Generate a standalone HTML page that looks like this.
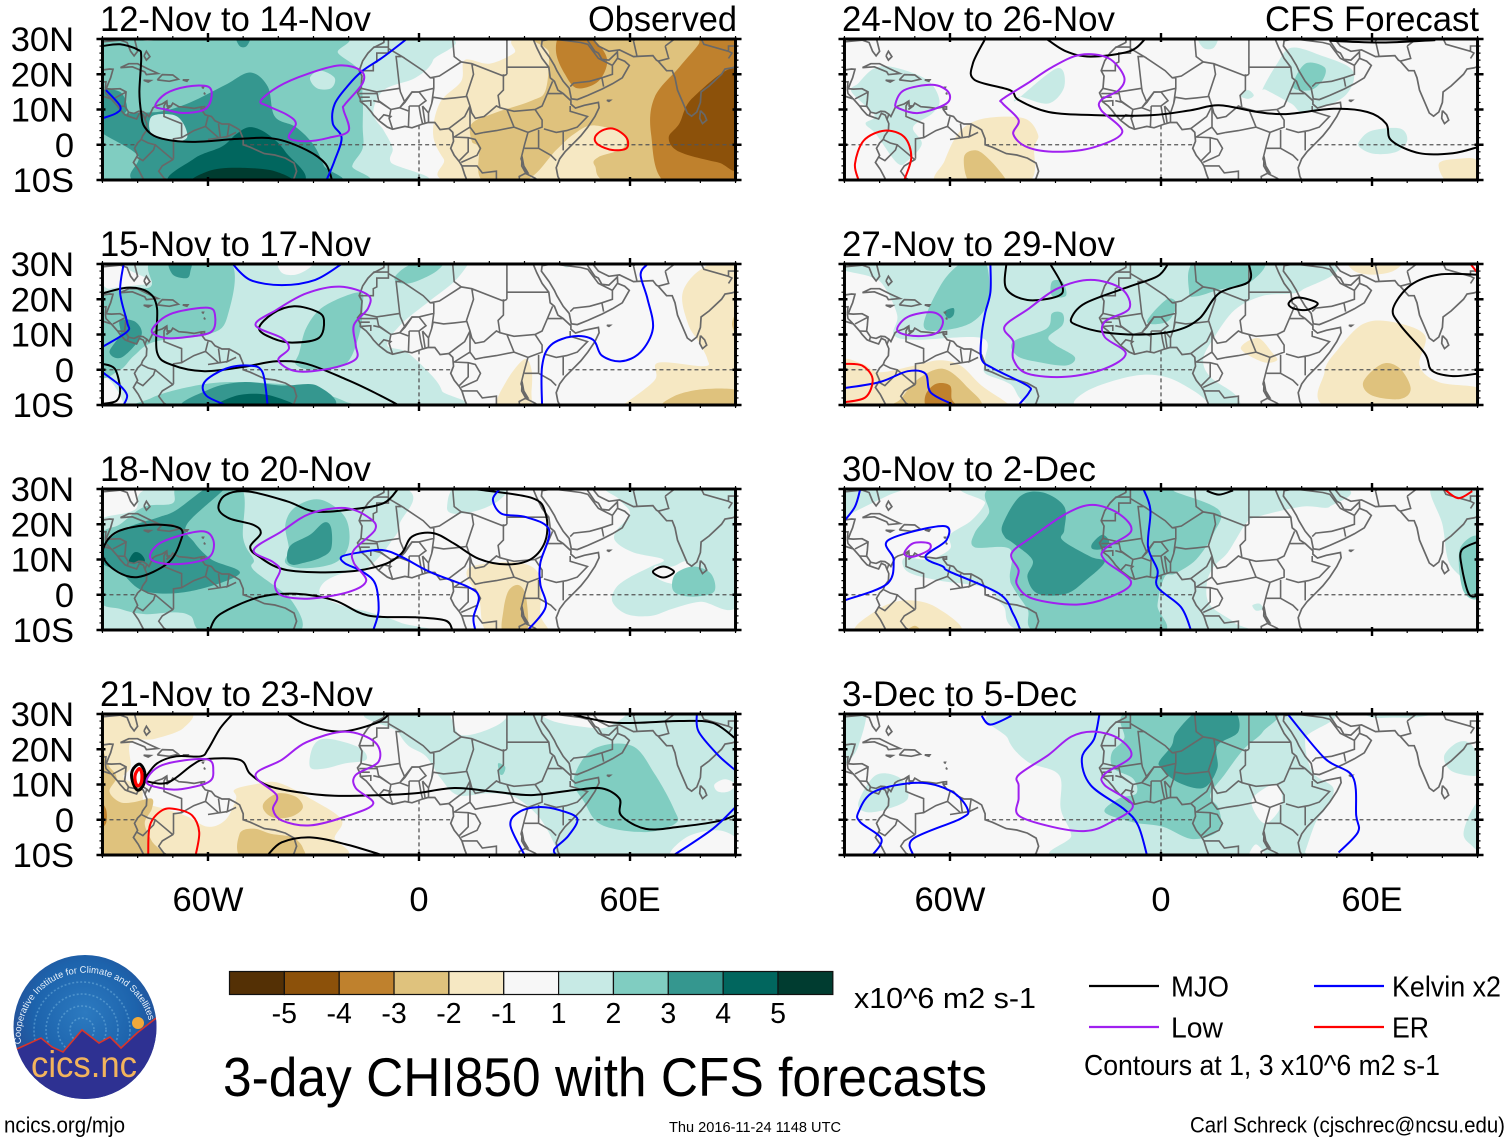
<!DOCTYPE html>
<html lang="en">
<head>
<meta charset="utf-8">
<title>3-day CHI850 with CFS forecasts</title>
<style>
html,body{margin:0;padding:0;background:#fff;}
body{width:1510px;height:1142px;overflow:hidden;}
svg{display:block;}
text{font-family:"Liberation Sans",sans-serif;fill:#000;}
</style>
</head>
<body>
<svg id="chart" xmlns="http://www.w3.org/2000/svg" width="1510" height="1142" viewBox="0 0 1510 1142">
<rect x="0" y="0" width="1510" height="1142" fill="#fff"/>
<g id="panels"></g>

<text x="588" y="31" font-size="35" textLength="149" lengthAdjust="spacingAndGlyphs">Observed</text>
<text x="1265" y="31" font-size="35" textLength="214" lengthAdjust="spacingAndGlyphs">CFS Forecast</text>

<g>
<defs>
<radialGradient id="logoGrad" cx="50%" cy="40%" r="60%">
<stop offset="0%" stop-color="#2c7ac0"/><stop offset="60%" stop-color="#1d63ac"/><stop offset="100%" stop-color="#27488f"/>
</radialGradient>
<clipPath id="logoClip"><ellipse cx="85" cy="1027" rx="71.5" ry="72"/></clipPath>
<path id="logoArc" d="M 21 1044 A 65 65 0 1 1 151 1032"/>
</defs>
<ellipse cx="85" cy="1027" rx="71.5" ry="72" fill="url(#logoGrad)"/>
<g fill="none" stroke="#6fb0dd" stroke-width="1.6" stroke-dasharray="2 2" opacity=".55" clip-path="url(#logoClip)">
<circle cx="82" cy="1030" r="12"/><circle cx="82" cy="1030" r="24"/><circle cx="82" cy="1030" r="36"/><circle cx="82" cy="1030" r="48"/>
</g>
<circle cx="138" cy="1023" r="6" fill="#f0a93a"/>
<path clip-path="url(#logoClip)" d="M 10 1052 L 19 1048 L 41 1038 L 52 1047 L 63 1052 L 82 1030 L 99 1043 L 110 1037 L 121 1048 L 137 1033 L 160 1015 L 160 1105 L 10 1105 Z" fill="#2e3192" stroke="#d8352a" stroke-width="1.6"/>
<text x="84" y="1077" font-size="37" text-anchor="middle" textLength="106" lengthAdjust="spacingAndGlyphs" style="fill:#f2b45c">cics.nc</text>
<text font-size="9.4" style="fill:#e8f1fa"><textPath href="#logoArc">Cooperative Institute for Climate and Satellites</textPath></text>
</g>

<g id="colorbar"></g>
<text x="854" y="1008" font-size="29" textLength="182" lengthAdjust="spacingAndGlyphs">x10^6 m2 s-1</text>

<g>
<line x1="1089" y1="986" x2="1159" y2="986" stroke="#000" stroke-width="2.2"/>
<text x="1171" y="996.5" font-size="28.5" textLength="58" lengthAdjust="spacingAndGlyphs">MJO</text>
<line x1="1089" y1="1027" x2="1159" y2="1027" stroke="#a020f0" stroke-width="2.2"/>
<text x="1171" y="1037.5" font-size="28.5" textLength="52" lengthAdjust="spacingAndGlyphs">Low</text>
<line x1="1314" y1="986" x2="1384" y2="986" stroke="#0000ff" stroke-width="2.2"/>
<text x="1392" y="996.5" font-size="28.5" textLength="109" lengthAdjust="spacingAndGlyphs">Kelvin x2</text>
<line x1="1314" y1="1027" x2="1384" y2="1027" stroke="#ff0000" stroke-width="2.2"/>
<text x="1392" y="1037.5" font-size="28.5" textLength="37" lengthAdjust="spacingAndGlyphs">ER</text>
<text x="1084" y="1075" font-size="28.5" textLength="356" lengthAdjust="spacingAndGlyphs">Contours at 1, 3 x10^6 m2 s-1</text>
</g>

<text x="223" y="1096" font-size="55" textLength="764" lengthAdjust="spacingAndGlyphs">3-day CHI850 with CFS forecasts</text>
<text x="4" y="1132.5" font-size="22" textLength="121" lengthAdjust="spacingAndGlyphs">ncics.org/mjo</text>
<text x="669" y="1132" font-size="14.5" textLength="172" lengthAdjust="spacingAndGlyphs">Thu 2016-11-24 1148 UTC</text>
<text x="1190" y="1132.5" font-size="22" textLength="315" lengthAdjust="spacingAndGlyphs">Carl Schreck (cjschrec@ncsu.edu)</text>
</svg>

<script>
const panelTitles = ["12-Nov to 14-Nov","15-Nov to 17-Nov","18-Nov to 20-Nov","21-Nov to 23-Nov","24-Nov to 26-Nov","27-Nov to 29-Nov","30-Nov to 2-Dec","3-Dec to 5-Dec"];
const panelTitleWidths = [271,271,271,273,273,273,254,235];
const lonTicks = [-60,0,60];
const lonTickLabels = ["60W","0","60E"];
const latTicks = [30,20,10,0,-10];
const latTickLabels = ["30N","20N","10N","0","10S"];
const colorLevels = [-6,-5,-4,-3,-2,0,1,2,3,4,5];
const colorValues = ["#543005","#8c510a","#bf812d","#dfc27d","#f6e8c3","#f7f7f7","#c7eae5","#80cdc1","#35978f","#01665e","#003c30"];
const colorbarLabels = ["-5","-4","-3","-2","-1","1","2","3","4","5"];
const contourColors = {MJO:"#000000",Kelvin:"#0000ff",Low:"#a020f0",ER:"#ff0000"};

const coastlines = [
[[-90,29.2],[-85,29.7],[-83,29],[-82,26.5],[-81,25.2],[-80,26.5],[-81,30.5]],
[[-90,21.2],[-88,21.5],[-87,21.4],[-87.7,19],[-88.3,17.5],[-88.9,15.9],[-87.5,15.8],[-85,15.9],[-83.3,15],[-83.5,12.5],[-83.7,11],[-82.5,9.2],[-81,8.9],[-79.7,9.5],[-78.5,9.4],[-77.3,8.6],[-76.8,8],[-75.6,10.5],[-74.8,11],[-73,11.6],[-71.7,12.4],[-71.6,11],[-71,11],[-71.8,10],[-70.5,11],[-70,11.8],[-68.3,10.8],[-66,10.6],[-64,10.3],[-62,10.7],[-61.9,10],[-60.8,8.5],[-59,8],[-58,6.8],[-56,5.9],[-54,5.9],[-52,4.8],[-51,4.2],[-50,1.7],[-50,0],[-48,-0.7],[-44,-2.5],[-41,-2.9],[-38,-3.8],[-35.5,-5.2],[-34.8,-7.5],[-35.5,-9.5],[-36.5,-10.5]],
[[-90,13.8],[-87.5,13],[-85.7,11],[-85,10],[-83.6,8.5],[-82.9,8.2],[-81.5,7.7],[-80.3,7.3],[-79.5,8.9],[-78.4,8.4],[-77.9,7.2],[-77.4,6],[-77.5,4],[-78.6,2.5],[-79,1.5],[-80,0.5],[-80.9,-1],[-80,-3],[-81.2,-5],[-79.8,-7],[-78.5,-9.5],[-78,-10.5]],
[[-84.9,21.9],[-82.5,23],[-80,23],[-77,21.5],[-74.2,20.2],[-77.5,19.9],[-78,20.7],[-81.5,22.1],[-84.9,21.9]],
[[-74.4,18.4],[-73,19.9],[-70,19.8],[-68.4,18.6],[-71,18],[-74.4,18.4]],
[[-78.3,18.3],[-76.3,18.2],[-77,17.8],[-78.3,18.3]],
[[-67.2,18.4],[-65.7,18.4],[-66,18],[-67.2,18.4]],
[[-78.2,25.2],[-77.5,24],[-76.5,25],[-77.5,26.5],[-78.2,25.2]],
[[-61.8,16.3],[-61.3,16.3],[-61.5,15.9]],[[-61.2,14.8],[-60.9,14.5],[-61,14.2]],
[[-61.8,10.7],[-61,10.8],[-61,10.1],[-61.8,10.1],[-61.8,10.7]],
[[-9.8,31],[-10,29],[-12,28],[-13,27.5],[-14.5,26],[-16,23.8],[-17,21],[-16.2,19.5],[-16.5,16],[-17.5,14.7],[-16.7,13],[-16.7,12.3],[-15,11],[-13.7,9.5],[-13,8.5],[-11.5,6.9],[-9,5],[-7.5,4.4],[-4,5.2],[-2,4.8],[1,5.9],[2.5,6.3],[4.5,6.3],[6,4.3],[8.5,4.6],[9.6,3.5],[9.8,1],[9,-1],[10,-3],[11.5,-4.8],[12.2,-6],[13,-8.5],[13.8,-10.5]],
[[32.5,29.9],[33.5,27.5],[35,24.5],[36.9,22],[37.3,19],[38.5,18],[39.5,15.5],[41,14.5],[43.2,12.5],[43.2,11.5],[44.5,10.4],[47,11.2],[51,12],[51.2,10.5],[50,8],[48,5],[46,2.5],[43.5,0],[41.5,-2],[40,-4],[39,-6.5],[39.5,-9],[40.3,-10.5]],
[[35,29.5],[34.8,28],[37,25],[38.5,22.5],[39.2,21],[41,18],[42.7,16],[43.3,13],[45,12.8],[48,14],[52,15.8],[55,17.3],[57.8,19],[59.8,22.5],[58.5,23.7],[56.5,24.5],[56.4,26.3],[54,24],[52,24.2],[51,26],[50,26.5],[48,29.5],[48,31]],
[[49,30.5],[51,28],[54,26.5],[57,26.9],[61,25],[66.5,25.3],[67.5,24],[68,23.7],[70.4,21],[72,21],[72.8,19],[73.5,15.5],[75,12],[76.3,9],[77.5,8.1],[79,9.3],[80,12],[80.2,15],[82.5,16.7],[86,20],[87,21.5],[89,21.8],[91,22.5]],
[[80,9.7],[81.2,8.5],[81.8,7],[80.6,6],[79.8,7.5],[80,9.7]],
[[53.4,12.6],[54.4,12.6],[54,12.3],[53.4,12.6]]
];
const borders = [
[[-8.7,31],[-8.7,27.7],[-13,27.7]],
[[-17,21],[-13,21],[-13,23],[-12,23.5],[-12,26],[-8.7,26],[-8.7,27.3],[-4.8,25],[-6.5,25],[-5.5,16],[-12,15],[-16.5,16]],
[[-4.8,25],[1.2,21],[3.2,19],[4.2,19],[4.2,16],[0,15],[-2,15],[-5.5,10.5]],
[[-5.5,16],[-5.3,15],[-4,12]],[[-12,15],[-11.5,12.5],[-8,10]],
[[3.2,19],[5.8,19.5],[12,23.5],[15,23],[24,19.5],[25,20]],
[[9.5,31],[10,25],[12,23.5]],[[25,31],[25,20]],[[25,22],[37,22]],
[[24,20],[24,15.5],[22.5,14],[23,10.5],[25,10],[27,5]],
[[15,23],[15.5,20],[13.5,14],[14.5,11],[15,9],[16,7.5],[18.5,8],[22,11],[23,10.5]],
[[3.6,11.7],[4,13.5],[7,13],[10,13.3],[13.5,13.7]],
[[14.5,11],[13,8],[11,6.5],[8.5,4.6]],[[2.7,6.3],[2.7,9],[3.6,11.7]],
[[-2.8,9.5],[-5.5,10.5],[-4,12],[-2,14.9],[0,15],[2,12.5],[0,11],[-2.8,11]],
[[-3,5],[-2.8,11]],[[0,11],[0.5,8],[1,6]],[[1.7,6.3],[1,11]],[[2.7,9],[1,11]],[[4.2,16],[3.6,11.7]],
[[-7.5,4.4],[-8.5,7.5],[-8,10],[-5.5,10.5]],[[-11.5,6.9],[-10,8.5],[-8,8],[-8.5,7.5]],
[[-13,12.5],[-11,12],[-8,10]],[[-17,14.5],[-12,14.5]],[[-16.7,13.5],[-14,13.5]],[[-16.7,12.3],[-13.7,12.5],[-13.7,11]],
[[14.5,5],[16,3],[18.5,3.5],[22,4],[27,5]],[[14.5,11],[14.5,5],[10,2.2]],
[[9.8,2.2],[14,2],[16,1.5],[17.5,-1],[16.5,-3],[12,-5]],[[14,2],[14,-2],[11.5,-4.5]],
[[27,5],[31,3.5],[30,0],[29,-4],[30.5,-8],[28.5,-9],[28.7,-11]],
[[23,10.5],[27,9.5],[33,10],[35,7],[35,5],[31,3.5]],
[[33,10],[35,11],[36.5,14.5],[38,18]],[[36.5,14.5],[41,14.5]],
[[43,11],[43,9.5],[47.9,8],[45,5],[42,4],[39,3.5],[35.5,4.5]],
[[34,4.2],[34,-1],[37.5,-3],[39,-4.5]],[[41,-1.6],[41,3.8]],
[[30,-1],[34,-1]],[[30,-8],[33,-9.5],[35,-11],[40.4,-10.5]],
[[29.3,-3.3],[29.8,-6],[31,-8],[30.3,-8],[29.2,-6],[29.3,-3.3]],
[[12.2,-6],[16.5,-6],[18,-8],[22,-7.5],[22,-11]],
[[34.8,29.5],[38,30],[46,29],[48,28.5],[51,24.5],[55,22.5],[55,20],[52,19],[48.5,18],[44,17.5],[43,16.5]],
[[52.5,16.5],[52,19]],[[55,22.5],[56.4,24.5]],
[[62,25],[61,29.5],[63,31]],[[70,28],[71,24.5],[68,23.7]],[[70,28],[74,31]],
[[80,30.5],[81,28.5],[88,26.5],[88,28],[91,28]],[[88,24.5],[89,26],[88,26.5]],
[[-71.7,12.4],[-72.5,11],[-72.5,8],[-70,7],[-67.5,6],[-67.5,2],[-69.8,1.7],[-69.8,-4]],
[[-80.3,-3.5],[-78.5,-4.5],[-75.5,-1.5],[-75,0],[-77,0.5],[-78.8,1.4]],
[[-75,0],[-70,-4.2],[-73,-6],[-74,-7.5],[-72.5,-9.5],[-70.5,-10.5]],
[[-67.5,2],[-64,4],[-60.7,5.2]],[[-60,8],[-60.7,5.2],[-57,2]],[[-57,6],[-56.5,2]],[[-54,5.8],[-54.5,2.3],[-52,3.5]],[[-60,1.5],[-54.5,2.3]],
[[-90,17.8],[-89,17.9],[-89.2,15.9]],[[-87.7,13.2],[-89,14.5],[-89.2,15.9]],[[-87,13],[-83.2,15]],
[[-85.7,11],[-83.7,10.9]],[[-82.9,8.2],[-82.6,9.5]],[[-77.4,8.6],[-77.9,7.2]]
];
const equatorOceanSpans = [[-90,-80],[-50,9.5],[42.5,90]];
const meridianOceanSpan = [5.5,-10];

const panel1Fills = [
[1,[[3,31],[4,24],[-1,19],[-10,15.5],[-13,9],[-10,4],[-7.5,-1],[-8,-5],[-2,-11],[-91,-11],[-91,31]]],
[2,[[-25,31],[-23,26],[-17,21],[-16,13],[-16,5],[-16,-1],[-19,-6],[-19,-11],[-91,-11],[-91,31]]],
[1,[[-82,31],[-78,29.5],[-73,30],[-72,31]]],
[1,[[-31,19],[-28,21],[-24,19],[-25,16],[-29,16]]],
[3,[[-48,20.5],[-43,16.5],[-41,8],[-35,5],[-30,0],[-27,-6],[-25,-11],[-78,-11],[-80,-3],[-91,4],[-91,8],[-80,9],[-73,9.5],[-65,12],[-55,17]]],
[3,[[-91,15],[-85,15],[-83,10],[-86,8],[-91,8]]],
[3,[[-52,31],[-48,31],[-49,28],[-51,28]]],
[1,[[-76,8],[-70,8.5],[-67,6],[-66,2],[-70,1],[-76,3]]],
[4,[[-70,-11],[-64,-4],[-56,-0.5],[-52,3],[-48,5],[-43,3],[-38,-2],[-34,-11]]],
[5,[[-63.5,-11],[-60,-7.5],[-52,-6.5],[-41,-7.5],[-37,-11]]],
[-1,[[32,31],[27,26],[20,23],[13,24],[12,18],[6,12],[4,3],[7,-4],[13,-11],[91,-11],[91,31]]],
[-2,[[36,31],[37,26],[36,15.5],[32,12.5],[21.5,9],[15,6],[15,1],[17,-1],[18,-10],[30.5,-10],[39,-1.5],[44,3],[49.5,5.5],[58,3],[58,-1],[51,-3.5],[50,-6],[56,-11],[91,-11],[91,31]]],
[-3,[[39,26],[41.5,20],[45,16],[51,18],[53.5,24],[50,29.5],[45,31],[40,31]]],
[-3,[[80,31],[79.5,28.5],[74,22],[67,13.5],[66,3],[70.5,-11],[91,-11],[91,31]]],
[-4,[[91,21],[78,13.5],[74,6],[71,2],[74,-2],[85,-5],[91,-5.5]]]
];
const panel1Lines = [
["MJO",0,[[-90,28],[-85,28.5],[-80,27],[-79,25],[-79.5,15],[-79,9],[-78,5],[-74,2],[-64.5,0.8],[-51,1.7],[-41,1.7],[-32,-1.5],[-26.5,-5.5],[-24.5,-11]]],
["Kelvin",0,[[-3.5,30],[-10,25],[-16,21],[-20,17],[-24,11.5],[-24.5,6],[-22,2],[-24,-4.5],[-26.5,-10.5]]],
["Kelvin",0,[[-89,15.5],[-85,11],[-86,9],[-90,7.5]]],
["Low",1,[[-75,11],[-72,14.5],[-66,16.5],[-60,16.5],[-59,13.5],[-61,10],[-67,9],[-72,10]]],
["Low",1,[[-45,12.5],[-40,16.5],[-32,20],[-22.5,22.5],[-16.5,21],[-16,17.5],[-21,11.5],[-21.5,10],[-20,4],[-25.5,2],[-32,1],[-37,2],[-35,6],[-37.5,8.5],[-43,11]]],
["ER",1,[[50,2],[52,4],[55.5,4.5],[59,2],[59,-1],[55,-1.5],[51,0]]]
];

const panel2Fills = [
[1,[[-77,31],[-76,25],[-80,24],[-88,23],[-91,21.5],[-91,-11],[6.5,-11],[6.5,-6],[3.5,-1.5],[-3.5,5],[-9,7],[-5,13],[3,19.5],[10,25],[14,30],[14,31]]],
[0,[[-39.5,31],[-39,27.5],[-35,27],[-31,29],[-30,31]]],
[0,[[-91,-2],[-87,-4],[-84,-11],[-91,-11]]],
[2,[[-75.5,31],[-54,31],[-54.5,15],[-60,10],[-75,8],[-81,4],[-85,0],[-91,-1],[-91,20],[-88,22],[-80,23],[-76,24]]],
[2,[[-77,-11],[-76,-8],[-66,-5],[-55,-3.5],[-40,-4],[-31,-5.5],[-21,-9],[-20,-11]]],
[2,[[-17,22],[-27,18],[-32,12],[-34,5],[-35,1.5],[-30,0],[-21,1.5],[-17,10],[-16,18]]],
[2,[[-7,26],[-4,29],[1,31],[7,31],[5,28],[-1,25],[-5,24.5]]],
[3,[[-71,31],[-70,27],[-66,26],[-65,28],[-65,31]]],
[3,[[-85,14],[-80.5,13.5],[-79,9.5],[-84.5,3.5],[-88,5],[-85,10]]],
[3,[[-66,-11],[-59.5,-5.5],[-50,-3.5],[-39,-4.5],[-29,-4.5],[-26,-11]]],
[4,[[-57,-11],[-52.5,-7.5],[-44,-7],[-36,-9.5],[-35,-11]]],
[1,[[40,31],[42,29],[45,31]]],
[-1,[[22,-11],[25,-3],[30,3],[32,0],[32,-6],[31,-11]]],
[-1,[[91,31],[81,29],[75,22],[76.5,13],[79.5,8],[82,3],[81,1],[68,2],[67,-3],[58,-10],[57,-11],[91,-11]]],
[-2,[[70,-11],[72.5,-7.5],[81,-5.5],[91,-6],[91,-11]]],
[-2,[[91,17],[89,13],[91,9]]]
];
const panel2Lines = [
["MJO",0,[[-90,21.7],[-82.5,23.3],[-77,22],[-74.5,17.5],[-74.5,5],[-70,1.3],[-61,-0.4],[-50,0.8],[-40.5,2.4],[-32,1.7],[-21,-2.6],[-13,-6.3],[-4,-11]]],
["MJO",0,[[-90,1.7],[-86.5,0.3],[-85,-5.5],[-86,-8.8],[-90,-9.7]]],
["MJO",1,[[-45.5,11.7],[-41.5,16],[-35.5,18],[-29,16.5],[-27,14],[-28.5,9],[-36,7.7],[-41.5,8.9]]],
["Kelvin",0,[[-84,30],[-85,22],[-83,13.5],[-83,10.8],[-90,6.5]]],
["Kelvin",0,[[-90,-0.7],[-85,-4.5],[-83,-7.3],[-84,-10]]],
["Kelvin",0,[[-53,30],[-48,25.5],[-39,24],[-29.5,25.5],[-22,30]]],
["Kelvin",0,[[-55,-10],[-60.5,-7.3],[-61,-3.5],[-55,0.3],[-48.5,1.2],[-44.5,-0.7],[-43,-10.5]]],
["Kelvin",0,[[35,-10.5],[35,1],[37.5,7],[44,9.5],[49.5,8.5],[52,4],[57.5,2.4],[63,5],[66.5,11.7],[65,20],[63,27],[65,30]]],
["Low",1,[[-76,10.8],[-73,14.5],[-68.5,16.5],[-60,17.6],[-58,15.5],[-59,10.8],[-66,9.3],[-72,9]]],
["Low",1,[[-46.5,12.7],[-40.5,17],[-32,21.7],[-22.5,23.6],[-14.5,21.2],[-14.5,17.4],[-18.5,12.7],[-18,7],[-18,3],[-25.5,0.3],[-35,-0.4],[-40,2.7],[-37,6],[-39,9]]]
];

const panel3Fills = [
[1,[[-72,31],[-7,31],[-5.5,20],[-8,15],[-12,10],[-16,7],[-22,6],[-27,3.5],[-28,0],[-22,-3],[-14,-5],[-5,-8],[-0.5,-11],[-91,-11],[-91,12],[-91,21],[-81,24]]],
[1,[[55,31],[91,31],[91,-2],[80,-2],[72,-4],[66,-6],[59,-5.5],[55,-2],[56,2],[60,5],[66,8],[69.5,10],[61,12],[56,15],[56,18],[60,23],[57,27]]],
[0,[[67,8],[72,8],[76,9.5],[78,6],[74,3],[68,4.5]]],
[1,[[10,23],[8,25],[11,31],[25,31],[23,27],[17,24]]],
[2,[[-68,31],[-70,26],[-78,25],[-85,20],[-91,16],[-91,-1],[-85,-4],[-78,-5.5],[-70,-5],[-65,-6],[-60,-11],[-35,-11],[-36,-2],[-47,7],[-47,10],[-50,16],[-51,31]]],
[2,[[-37,13],[-38,20],[-35,25],[-28,27],[-21,22],[-20,14],[-24,9],[-33,7.5],[-38,9]]],
[2,[[72,2],[73,6],[78,8],[83,6],[84,1],[79,-0.5],[74,0]]],
[3,[[-55,30.5],[-60,30.5],[-69,24],[-74,22],[-83,19],[-90,14],[-90,9],[-85,6.5],[-78,1],[-65,1],[-51,6],[-59,10],[-64,15],[-66,20]]],
[3,[[-37.5,10],[-36.5,14],[-31,17],[-27,20.5],[-25,19],[-25,13],[-28,10.5],[-33,9],[-36,8.5]]],
[4,[[-81,12],[-79,11.5],[-78,9.5],[-81,9],[-82.5,9.5]]],
[-1,[[13.5,6],[17,8.5],[29,9],[34.5,5],[34.5,-5.5],[36,-11],[20,-11],[17,-1]]],
[-2,[[25.5,1.2],[28.5,2.7],[30.5,-1],[30.5,-11],[24,-11],[24,-4.5]]]
];
const panel3Lines = [
["MJO",0,[[-6,30],[-10,26],[-18.5,24.3],[-29.5,23.6],[-37.5,26.5],[-48.5,29.3],[-55,28.3],[-57,24.5],[-54,21.7],[-47,19.8],[-45,17.4],[-48,13.6],[-45.5,10.8],[-37.5,7],[-21,6.5],[-10.5,8.4],[-5,11.7],[-2,16.5],[4,17.5],[10,14.5],[17,10.2],[25,8.6],[32,10.2],[36,15.5],[36,23],[32,27.5],[15.5,30]]],
["MJO",1,[[-90,11.7],[-86.5,17.5],[-77,19.8],[-68,18.9],[-68,14.6],[-71.5,8.9],[-80,5],[-86.5,7]]],
["MJO",0,[[-59.5,-10],[-56.5,-5.5],[-45.5,-0.7],[-35,0.3],[-24,-1.6],[-14.5,-5.9],[-1,-6.4],[7.5,-7.3],[9.5,-10]]],
["MJO",1,[[66.5,6.5],[69.5,8],[72.5,6.5],[69.5,4.9]]],
["Kelvin",0,[[23,30],[21,27],[23.5,23],[30.5,22],[37,18.4],[34.5,9],[34.5,3],[36,-3.5],[31,-10]]],
["Kelvin",0,[[-13,-10],[-11.5,-4.5],[-12.4,3],[-16,6.5],[-21,8.9],[-22,10.8],[-17,12],[-10.5,12.7],[-5,10.8],[3,6.5],[14,2.2],[17,-0.7],[15.5,-6.4],[16,-10]]],
["Low",1,[[-76.5,10.8],[-73,15],[-62,18],[-58.5,15.5],[-59.5,10.8],[-66,8.9],[-73,8.9]]],
["Low",1,[[-47,12.7],[-39,18],[-31,23],[-21,24.6],[-14,21.7],[-12.5,18.4],[-18.5,12.7],[-18.5,9],[-15,4],[-20,0.8],[-31,-1.1],[-39,-0.2],[-41,3],[-39.5,7],[-41.5,9.3]]]
];

const panel4Fills = [
[-1,[[-91,31],[-66,31],[-67,26],[-75,23],[-82,22],[-82,15],[-84,12],[-79,9],[-78,5],[-72,3],[-66,1],[-60,-2],[-55,0],[-52,6],[-52.5,8.5],[-47,10],[-40,10.5],[-30,5.5],[-22,0],[-24,-5],[-25,-11],[-91,-11]]],
[-2,[[-91,19],[-88,15],[-86,12],[-88,8],[-85,5],[-81,5],[-76,6],[-76,3],[-78,-1],[-76,-6],[-73,-11],[-91,-11]]],
[-2,[[-50,-11],[-51,-4],[-47,-2.5],[-42,-4],[-36,-5],[-33,-8],[-34,-11]]],
[-2,[[-44,5],[-40,7.5],[-35,6.5],[-33,3.5],[-36,1],[-41,0.5],[-44,2.5]]],
[-3,[[-91,5],[-89,3],[-89,-1],[-91,-2]]],
[1,[[-9,31],[91,31],[91,-11],[40,-11],[39,-8],[36,-2],[33,2],[27,6.5],[20,7.5],[11,7],[6,12],[2,18],[-3,21],[-6,25]]],
[0,[[10,31],[10,27],[12,24],[18,25],[24,28],[24,31]]],
[0,[[36,31],[38,28],[50,26],[55,27],[58,31]]],
[0,[[72,-11],[76,-5],[85,-3],[91,-6],[91,-11]]],
[0,[[84,10],[87,11.5],[90,10],[88,8],[85,8]]],
[1,[[-31,15],[-30,21],[-26,23],[-17,20.5],[-15,17],[-21,16],[-27,14.5]]],
[2,[[44,11.5],[49.5,20],[60.5,21],[67,13],[72.5,3],[73,-1],[64.5,-3.5],[52,-1.5],[47,5]]],
[2,[[22.5,16],[24.5,15],[24,13],[23,13]]]
];
const panel4Lines = [
["MJO",0,[[-53,30],[-56.5,26],[-60,20],[-62,18],[-69,18],[-74.5,16],[-78,11.7]]],
["MJO",0,[[-78,11],[-71.5,10.5],[-64.5,15.5],[-60.5,17.2],[-51,17],[-48,13],[-43,9.7],[-35,7.9],[-24,6.8],[-10.5,7],[-1,7.5],[10,9],[21,8],[32,7],[44,8.4],[52,8.9],[57,6],[57.5,1.2],[64.5,-2.6],[74,-2],[85,-0.4],[90,1.3]]],
["MJO",0,[[-37.5,30],[-32,27],[-22.5,25],[-12,27.5],[-8.5,30]]],
["MJO",0,[[43,30],[56,27.5],[74,28],[83.5,27.5],[90,23]]],
["MJO",0,[[-43,-10],[-39,-6.4],[-31,-5],[-21,-6.9],[-10.5,-10]]],
["MJO",1,[[-81.5,14],[-79.5,15.8],[-78,13.5],[-78.3,10],[-80,8.4],[-81.5,11]],3],
["ER",1,[[-80.6,13],[-79.5,14.5],[-78.8,13],[-79,10.5],[-80,9.6],[-80.7,11]],3.2],
["ER",0,[[-77,-10],[-76.5,-1.6],[-73,2.7],[-69,3],[-64.5,1.2],[-62.5,-3.5],[-63.5,-10]]],
["Kelvin",0,[[30,-10],[26,-1.6],[28.5,2.2],[34,3.6],[40,2.7],[45,0.3],[42.5,-4.5],[38.5,-8.3],[39,-10]]],
["Kelvin",0,[[72.5,-10],[83.5,-2.6],[90,3.6]]],
["Kelvin",0,[[79,30],[79.5,25],[85,18.4],[90,14]]],
["Low",1,[[-77.5,10.8],[-73,15.5],[-60.5,17.2],[-58.5,13.6],[-60,10.6],[-67.5,8.7],[-73,8.9]]],
["Low",1,[[-46.5,12.7],[-39,17],[-32,22],[-21,25],[-12.5,22],[-11.5,16.5],[-18,12.7],[-18,9],[-13,4.6],[-20,1.2],[-31,-1.6],[-39,-0.2],[-41.5,3],[-40.5,7]]]
];

const panel5Fills = [
[1,[[-86,17.5],[-81.5,21.7],[-76,22],[-66.5,18.4],[-63,12.7],[-65,8.9],[-70.5,5],[-68,0.3],[-72,-4.5],[-75,-5.2],[-81,3],[-84,6],[-81.5,8.4],[-88,15]]],
[1,[[-41,12.7],[-29.5,21.7],[-27.5,16.5],[-32,11.7],[-40,13.6]]],
[1,[[10.5,31],[12,27.5],[15,27.5],[16,31]]],
[1,[[29,16],[33,23],[37,27.5],[45,25.5],[54.5,21],[52,13.6],[41,9.3],[37,11.7],[30,15.5]]],
[1,[[22.5,14],[24.7,15.5],[26.4,14],[24.7,13]]],
[1,[[56.5,1.2],[60,4],[68,4.6],[70,1.2],[67,-2],[60.7,-2.6],[56.5,-0.7]]],
[2,[[37.5,16.5],[41,23],[46.5,22],[46,18.4],[42.5,15.5]]],
[-1,[[-63,-11],[-61.5,-4.5],[-57,4],[-50,7.5],[-39,7.5],[-35,3],[-36,-0.7],[-38.5,-11]]],
[-1,[[79,-5.4],[84.5,-4],[90,-4.5],[91,-11],[82,-11]]],
[-2,[[-56,-3.5],[-52.5,-1.6],[-48.5,-4.5],[-44.5,-9.3],[-44.5,-11],[-54,-11]]]
];
const panel5Lines = [
["MJO",0,[[-50,30],[-53.5,23],[-53,18.4],[-43,15.5],[-40.5,12.7],[-32,9.3],[-19,8.4],[-2.5,8.4],[8.5,9.8],[16.5,11.2],[27.5,9.3],[35.5,8.7],[49,10.2],[58.7,9.3],[64,6],[65.5,1.2],[73.5,-2.4],[83,-2.4],[90,-0.7]]],
["MJO",0,[[-32.5,30],[-27,26.5],[-20,25],[-9,26.5],[-4.5,30]]],
["MJO",0,[[48,29.5],[63,29],[78,29.7]]],
["ER",0,[[-86,-10],[-87,-5.4],[-84.5,1.2],[-78.5,4],[-73,2.2],[-71,-3.5],[-73,-10]]],
["Low",1,[[-75.5,11.7],[-73,15.5],[-65,17],[-60.5,15],[-61,11.7],[-69,9],[-74.5,10.3]]],
["Low",1,[[-45,13],[-38,17.4],[-31,22],[-23,25.5],[-15,24.6],[-10.5,19.3],[-12,15.5],[-17,12.7],[-17,9.8],[-11,3.6],[-19,-0.7],[-29.5,-2],[-38,-0.7],[-42,3],[-40.5,7],[-45,11.7]]]
];

const panel6Fills = [
[1,[[-91,31],[-91,28.5],[-83,26.5],[-79,24],[-75,15.5],[-76,10],[-70,8.5],[-51,9],[-50,3],[-50,-1],[-43,-4],[-33,-11],[13,-11],[22,-11],[21,-7],[14,-2],[12,3],[15,9],[21,17],[29,21],[40,22.5],[40,31]]],
[0,[[-22,-11],[-21,-6],[-6,-1.5],[5,-3.5],[12,-11]]],
[2,[[-67.5,12.7],[-62,25],[-55.5,31],[-50,31],[-49,20],[-53.5,13.6],[-62,11.2]]],
[2,[[-31,25],[-28,25],[-27,21],[-31,21]]],
[2,[[-42,8],[-32.5,11.7],[-31,16],[-28,16],[-28,12.7],[-32,9.3],[-30,7],[-24.5,3.6],[-27,1.2],[-35,2.2],[-41,4]]],
[2,[[8,22],[10,31],[29,31],[25,24.6],[16.5,22.7],[10,20.8]]],
[2,[[-4,13.6],[1.7,20],[4.5,18.4],[1.7,13.6]]],
[3,[[-61.5,16.5],[-59,17.5],[-59,15.5],[-60.5,14.6]]],
[-1,[[-91,2.2],[-85,1.7],[-80,-0.7],[-70,1.2],[-63,2.7],[-57,1.2],[-51,-4.5],[-44,-9.3],[-43.5,-11],[-91,-11]]],
[-2,[[-76,-11],[-74,-8.3],[-69,-2.6],[-62,0.3],[-55.5,-4.5],[-52,-11]]],
[-3,[[-67,-7.3],[-64,-4],[-60,-4.5],[-59.5,-8.3],[-58,-11],[-66,-11]]],
[-1,[[22.7,6],[27.5,9],[31.5,5],[33,2.7],[29,2.2]]],
[-1,[[46.5,-0.7],[50.5,6],[57.5,13],[65.5,13.6],[75,9.8],[73.5,1.2],[79,-3.5],[91,-5.4],[91,-11],[48.5,-11]]],
[-1,[[54,31],[55,28],[60,27],[66,28],[68,31]]],
[-2,[[57.5,-3.5],[63,1.7],[68,0.3],[71,-5.4],[68,-8.3],[60,-7.3]]]
];
const panel6Lines = [
["Kelvin",0,[[-48.5,30],[-48.5,22],[-50,16],[-51,9.8],[-51,3],[-47.5,0.3],[-38,-4.5],[-37.5,-6.4],[-40.5,-10]]],
["Kelvin",0,[[-90,-5.2],[-80,-3.5],[-72,-0.4],[-67,-1.1],[-65.5,-6.4],[-59.5,-9.7]]],
["ER",0,[[-90,1.7],[-85,1.2],[-82,-2.6],[-84,-7.8],[-90,-9.2]]],
["ER",0,[[88,30],[90,27.5]]],
["MJO",0,[[-44,30],[-44,23],[-38,19.8],[-29.5,20.8],[-28,23.6],[-31.5,30]]],
["MJO",0,[[2,30],[-1,26.5],[-9,23.6],[-21.5,18.9],[-25.5,14.6],[-24,12.7],[-16,10.6],[-5,10],[4.5,11.2],[11,14.6],[16.5,21.7],[25,25],[25,30]]],
["MJO",1,[[36.3,18.9],[39,20.5],[44.5,18.9],[41.7,17],[37.6,17.4]]],
["MJO",0,[[90,27],[79,27],[71,24],[66,17.4],[68,12.7],[75,4.6],[77,-0.2],[83,-1.8],[90,-1.1]]],
["Low",1,[[-75,11.2],[-72,15],[-65,16.3],[-62,14],[-64,10.3],[-70.5,9.6]]],
["Low",1,[[-44.5,12.2],[-37.5,17.4],[-29.5,23],[-20,25.5],[-11.3,23],[-9,17.4],[-16,13.6],[-16,9.3],[-10,4.6],[-16,0.3],[-27,-2],[-38,-1.1],[-42,3],[-42,8]]]
];

const panel7Fills = [
[1,[[-91,31],[-72,31],[-78,28],[-88,23],[-91,20]]],
[1,[[-50,31],[-50,26],[-54,21],[-60,17],[-60,13],[-66,10],[-73,10.5],[-72,6.5],[-63,4],[-50,2],[-45,-3],[-36,-11],[22,-11],[21,-8],[14,-3],[13,3],[15,8],[19,12],[24,20],[27,22],[40,25],[48,25],[46,31]]],
[1,[[77,31],[80,20],[82.5,8],[91,5],[91,31]]],
[1,[[26,-3],[28,-2.5],[29,-4],[27,-4.5]]],
[2,[[-46,31],[-49,23],[-53,17.5],[-53,13.5],[-43,13],[-43,5],[-42,2],[-38,-4],[-34,-11],[-0.5,-11],[-1,-3],[1,5],[4,6],[10,10],[15,17.5],[16.5,24],[4.5,29],[-2,31]]],
[2,[[85,13],[91,16],[91,0],[86,1]]],
[3,[[-45,20],[-40,28],[-33.5,29],[-27.5,25],[-27.5,18.4],[-28,15.5],[-20,10.8],[-16,9.3],[-21.5,4],[-27,0.3],[-35,0.3],[-38,5],[-36.5,9.8],[-42,14.6],[-44.5,16.5]]],
[3,[[-19.5,14.6],[-16.7,17],[-14.7,15],[-16.7,13],[-19.5,13]]],
[-1,[[-86,-11],[-81,-4.5],[-73,-1.6],[-64,-3.5],[-57.5,-11]]],
[-2,[[-73,-11],[-70,-8.8],[-68,-11]]]
];
const panel7Lines = [
["Kelvin",0,[[-85.5,30],[-87,25],[-90,21]]],
["Kelvin",0,[[-90,-1.6],[-78,3],[-76,9.8],[-77.5,15.5],[-62,19.5],[-61,15.5],[-67,10.8],[-62,8],[-60,6.5],[-46,0.3],[-42,-5.5],[-40,-10]]],
["Kelvin",0,[[-5,30],[-3,24],[-3.7,13.6],[-1,7],[-1,2.2],[5.7,-3.5],[8.5,-10]]],
["MJO",0,[[13,29.5],[16.5,28.4],[20.5,29.6]]],
["MJO",0,[[90,15],[85.5,12.7],[85.5,8],[87.5,0.3],[90,-0.4]]],
["ER",0,[[80.5,30],[84.5,27.4],[88.5,29.4]]],
["Low",1,[[-73,11.7],[-70.5,14.6],[-66,14.6],[-66,12.7],[-70.5,10.8]]],
["Low",1,[[-42.5,11.7],[-36.5,16.5],[-27,23],[-19.5,25.5],[-12,23],[-8.5,18],[-16,13],[-16,9.8],[-8.5,3.6],[-14.7,-0.7],[-24,-2.8],[-36.5,-1.1],[-41,3],[-40.5,7]]]
];

const panel8Fills = [
[1,[[-91,31],[-84,31],[-86,21],[-89,16.5],[-91,16]]],
[1,[[-86,5],[-81,12.7],[-74,11.7],[-72,6],[-78,3],[-84,2.2]]],
[1,[[-43,31],[-43.5,23],[-38,16.5],[-29,12.7],[-28.5,3],[-25.5,-4.5],[-27.5,-11],[40,-11],[41,-9],[44,-0.7],[47,3.6],[49,9],[43,13.6],[41,23],[44,31]]],
[0,[[26,6],[31.5,10],[34,9],[34,3.5],[30,-1],[27,1.5]]],
[0,[[25,-11],[27,-7],[30,-11]]],
[1,[[80.5,18],[84.5,22],[88.5,21],[91,13],[83,13.6]]],
[1,[[91,5],[88,2],[86,-4],[88,-7],[91,-8]]],
[1,[[59,31],[60,29],[66,29],[72,29],[78,30],[80,31]]],
[2,[[-8,31],[-10.5,23],[-14,19],[-13.5,14.6],[-8,11.7],[-7,7.5],[-12,6],[-16,2.2],[-8,-0.7],[0.5,-2],[9,-5.5],[16.5,-3],[16.5,3],[14,7],[18,12.7],[23.5,20],[29,25],[31,31]]],
[3,[[-0.5,16.5],[3,21],[4.5,25],[11,31],[20.5,31],[22,25],[16,21],[16,14.5],[12,9],[4.5,10.8],[0.2,14.6]]]
];
const panel8Lines = [
["Kelvin",0,[[-51,29.5],[-48.5,27],[-42.5,29.5]]],
["Kelvin",0,[[-17.5,30],[-19,23],[-22.5,17.5],[-20,9.8],[-10.5,3],[-6.5,-1.6],[-4,-10]]],
["Kelvin",0,[[36,30],[46.5,17.5],[54.5,12.2],[55.5,1.2],[56,-3.5],[50.5,-9.3]]],
["Kelvin",0,[[-82,-10],[-79.5,-5.4],[-85.5,-0.7],[-86,2.2],[-81.5,8],[-69,10.5],[-59.5,8],[-55,3],[-57,0.3],[-70.5,-5.4],[-70.5,-10]]],
["Low",1,[[-40.5,12.7],[-32,18.4],[-25.5,23.6],[-19,25],[-12,23],[-8.5,18],[-16,13],[-16,9.8],[-8,4],[-15,-1.1],[-21.5,-3.2],[-31,-2],[-40.5,1.2],[-40.5,6],[-40.5,9.8]]]
];

const allFills = [panel1Fills,panel2Fills,panel3Fills,panel4Fills,panel5Fills,panel6Fills,panel7Fills,panel8Fills];
const allLines = [panel1Lines,panel2Lines,panel3Lines,panel4Lines,panel5Lines,panel6Lines,panel7Lines,panel8Lines];

const NS = "http://www.w3.org/2000/svg";
const LON_SCALE = 3.517, LAT_SCALE = 3.525;
const COLUMN_ZERO = [419, 1161];
const ROW_TOP = 39, ROW_STEP = 225;

function xAxis(column, lon){ return COLUMN_ZERO[column] + lon * LON_SCALE; }
function yAxis(row, lat){ return ROW_TOP + ROW_STEP * row + (30 - lat) * LAT_SCALE; }
function colorFor(level){
  if (level === -1) return colorValues[4];
  if (level === -2) return colorValues[3];
  if (level === -3) return colorValues[2];
  if (level === -4) return colorValues[1];
  if (level === -5) return colorValues[0];
  return colorValues[colorLevels.indexOf(level)];
}
function openCurve(p){
  let d = "M" + p[0][0].toFixed(1) + " " + p[0][1].toFixed(1);
  for (let i = 0; i < p.length - 1; i++){
    const a = p[Math.max(i-1,0)], b = p[i], c = p[i+1], e = p[Math.min(i+2,p.length-1)];
    d += "C" + (b[0]+(c[0]-a[0])/6).toFixed(1) + " " + (b[1]+(c[1]-a[1])/6).toFixed(1) + " " + (c[0]-(e[0]-b[0])/6).toFixed(1) + " " + (c[1]-(e[1]-b[1])/6).toFixed(1) + " " + c[0].toFixed(1) + " " + c[1].toFixed(1);
  }
  return d;
}
function closedCurve(p){
  const n = p.length;
  let d = "M" + p[0][0].toFixed(1) + " " + p[0][1].toFixed(1);
  for (let i = 0; i < n; i++){
    const a = p[(i-1+n)%n], b = p[i], c = p[(i+1)%n], e = p[(i+2)%n];
    d += "C" + (b[0]+(c[0]-a[0])/6).toFixed(1) + " " + (b[1]+(c[1]-a[1])/6).toFixed(1) + " " + (c[0]-(e[0]-b[0])/6).toFixed(1) + " " + (c[1]-(e[1]-b[1])/6).toFixed(1) + " " + c[0].toFixed(1) + " " + c[1].toFixed(1);
  }
  return d + "Z";
}
function polyline(p){
  return p.map(function(q,i){ return (i ? "L" : "M") + q[0].toFixed(1) + " " + q[1].toFixed(1); }).join("");
}

const root = document.getElementById("panels");

for (let index = 0; index < 8; index++){
  const column = index < 4 ? 0 : 1;
  const row = index % 4;
  const X = function(lon){ return xAxis(column, lon); };
  const Y = function(lat){ return yAxis(row, lat); };
  const project = function(pts){ return pts.map(function(q){ return [X(q[0]), Y(q[1])]; }); };
  const left = X(-90), right = X(90), top = Y(30), bottom = Y(-10);

  const panel = document.createElementNS(NS, "g");
  
  
  root.appendChild(panel);

  const clip = document.createElementNS(NS, "clipPath");
  clip.setAttribute("id", "clip" + index);
  const clipRect = document.createElementNS(NS, "rect");
  clipRect.setAttribute("x", left);
  clipRect.setAttribute("y", top);
  clipRect.setAttribute("width", right - left);
  clipRect.setAttribute("height", bottom - top);
  clip.appendChild(clipRect);
  panel.appendChild(clip);

  const plot = document.createElementNS(NS, "g");
  plot.setAttribute("clip-path", "url(#clip" + index + ")");
  
  
  panel.appendChild(plot);

  const bg = document.createElementNS(NS, "rect");
  
  
  bg.setAttribute("x", left);
  bg.setAttribute("y", top);
  bg.setAttribute("width", right - left);
  bg.setAttribute("height", bottom - top);
  bg.setAttribute("fill", "#f7f7f7");
  plot.appendChild(bg);

  allFills[index].forEach(function(region){
    const el = document.createElementNS(NS, "path");
    
    
    el.setAttribute("d", closedCurve(project(region[1])));
    el.setAttribute("fill", colorFor(region[0]));
    plot.appendChild(el);
  });

  equatorOceanSpans.forEach(function(span){
    const el = document.createElementNS(NS, "line");
    
    
    el.setAttribute("x1", X(span[0]));
    el.setAttribute("x2", X(span[1]));
    el.setAttribute("y1", Y(0));
    el.setAttribute("y2", Y(0));
    el.setAttribute("stroke", "#555");
    el.setAttribute("stroke-width", "1.3");
    el.setAttribute("stroke-dasharray", "4 3");
    plot.appendChild(el);
  });
  const meridian = document.createElementNS(NS, "line");
  
  
  meridian.setAttribute("x1", X(0));
  meridian.setAttribute("x2", X(0));
  meridian.setAttribute("y1", Y(meridianOceanSpan[0]));
  meridian.setAttribute("y2", Y(meridianOceanSpan[1]));
  meridian.setAttribute("stroke", "#555");
  meridian.setAttribute("stroke-width", "1.3");
  meridian.setAttribute("stroke-dasharray", "4 3");
  plot.appendChild(meridian);

  const coast = document.createElementNS(NS, "path");
  
  
  coast.setAttribute("d", coastlines.map(function(c){ return polyline(project(c)); }).join(""));
  coast.setAttribute("fill", "none");
  coast.setAttribute("stroke", "#686868");
  coast.setAttribute("stroke-width", "1.7");
  plot.appendChild(coast);

  const border = document.createElementNS(NS, "path");
  
  
  border.setAttribute("d", borders.map(function(c){ return polyline(project(c)); }).join(""));
  border.setAttribute("fill", "none");
  border.setAttribute("stroke", "#686868");
  border.setAttribute("stroke-width", "1.6");
  plot.appendChild(border);

  allLines[index].forEach(function(entry){
    const pts = project(entry[2]);
    const el = document.createElementNS(NS, "path");
    
    
    el.setAttribute("d", entry[1] ? closedCurve(pts) : openCurve(pts));
    el.setAttribute("fill", "none");
    el.setAttribute("stroke", contourColors[entry[0]]);
    el.setAttribute("stroke-width", entry[3] || 2);
    plot.appendChild(el);
  });

  const frame = document.createElementNS(NS, "rect");
  
  
  frame.setAttribute("x", left);
  frame.setAttribute("y", top);
  frame.setAttribute("width", right - left);
  frame.setAttribute("height", bottom - top);
  frame.setAttribute("fill", "none");
  frame.setAttribute("stroke", "#000");
  frame.setAttribute("stroke-width", "3");
  panel.appendChild(frame);

  let minor = "", major = "";
  for (let lon = -90; lon <= 90; lon += 10){
    if (lonTicks.indexOf(lon) >= 0){
      major += "M" + X(lon) + " " + (top-6) + "V" + (top+3) + "M" + X(lon) + " " + (bottom-3) + "V" + (bottom+6);
    } else {
      minor += "M" + X(lon) + " " + (top-3) + "V" + top + "M" + X(lon) + " " + bottom + "V" + (bottom+3);
    }
  }
  for (let lat = -10; lat <= 30; lat += 2){
    if (latTicks.indexOf(lat) >= 0){
      major += "M" + (left-6) + " " + Y(lat) + "H" + (left+3) + "M" + (right-3) + " " + Y(lat) + "H" + (right+6);
    } else {
      minor += "M" + (left-3) + " " + Y(lat) + "H" + left + "M" + right + " " + Y(lat) + "H" + (right+3);
    }
  }
  const minorTicks = document.createElementNS(NS, "path");
  
  
  minorTicks.setAttribute("d", minor);
  minorTicks.setAttribute("stroke", "#000");
  minorTicks.setAttribute("stroke-width", "1.2");
  panel.appendChild(minorTicks);
  const majorTicks = document.createElementNS(NS, "path");
  
  
  majorTicks.setAttribute("d", major);
  majorTicks.setAttribute("stroke", "#000");
  majorTicks.setAttribute("stroke-width", "2.4");
  panel.appendChild(majorTicks);

  const title = document.createElementNS(NS, "text");
  
  
  title.setAttribute("x", left - 2.5);
  title.setAttribute("y", top - 8);
  title.setAttribute("font-size", "35");
  title.setAttribute("textLength", panelTitleWidths[index]);
  title.setAttribute("lengthAdjust", "spacingAndGlyphs");
  title.textContent = panelTitles[index];
  panel.appendChild(title);

  if (column === 0){
    latTicks.forEach(function(lat, i){
      const el = document.createElementNS(NS, "text");
      
      
      el.setAttribute("x", 74);
      el.setAttribute("y", Y(lat) + 12);
      el.setAttribute("font-size", "34.5");
      el.setAttribute("text-anchor", "end");
      el.textContent = latTickLabels[i];
      panel.appendChild(el);
    });
  }
  if (row === 3){
    lonTicks.forEach(function(lon, i){
      const el = document.createElementNS(NS, "text");
      
      
      el.setAttribute("x", X(lon));
      el.setAttribute("y", 911);
      el.setAttribute("font-size", "34.5");
      el.setAttribute("text-anchor", "middle");
      el.textContent = lonTickLabels[i];
      panel.appendChild(el);
    });
  }
}

const bar = document.getElementById("colorbar");
const BAR_LEFT = 229.5, BAR_WIDTH = 54.85, BAR_TOP = 971.5, BAR_HEIGHT = 23;
colorValues.forEach(function(color, i){
  const el = document.createElementNS(NS, "rect");
  
  
  el.setAttribute("x", BAR_LEFT + i * BAR_WIDTH);
  el.setAttribute("y", BAR_TOP);
  el.setAttribute("width", BAR_WIDTH);
  el.setAttribute("height", BAR_HEIGHT);
  el.setAttribute("fill", color);
  el.setAttribute("stroke", "#111");
  el.setAttribute("stroke-width", "1.2");
  bar.appendChild(el);
});
colorbarLabels.forEach(function(label, i){
  const el = document.createElementNS(NS, "text");
  
  
  el.setAttribute("x", BAR_LEFT + (i + 1) * BAR_WIDTH);
  el.setAttribute("y", 1023);
  el.setAttribute("font-size", "28.5");
  el.setAttribute("text-anchor", "middle");
  el.textContent = label;
  bar.appendChild(el);
});
</script>
</body>
</html>
